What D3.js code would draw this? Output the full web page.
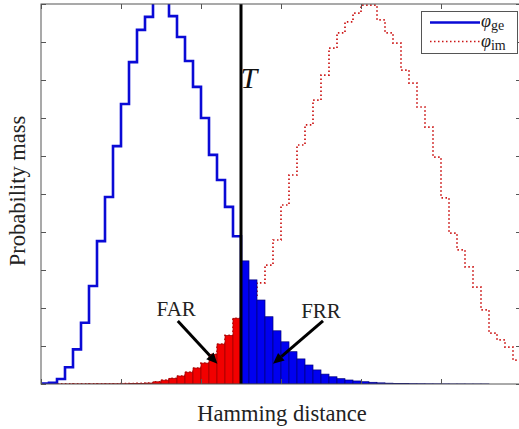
<!DOCTYPE html>
<html>
<head>
<meta charset="utf-8">
<script src="https://cdnjs.cloudflare.com/ajax/libs/d3/7.8.5/d3.min.js"></script>
<style>
  html, body { margin: 0; padding: 0; background: #fff; overflow: hidden; }
  svg { display: block; }
  text { font-family: "Liberation Serif", "Times New Roman", serif; fill: #222; }
</style>
</head>
<body>
<svg id="chart" width="519" height="429"></svg>
<script>
// Hamming-distance histogram bins (left edges), bin width 0.01
const binWidth = 0.01;
const binStarts = d3.range(60).map(i => +(i * binWidth).toFixed(2));
const threshold = 0.25;

// Genuine comparisons (relative probability mass per bin)
const genuine = [
  0.01, 0.03, 0.13, 0.44, 0.91, 1.61, 2.58, 3.76, 4.92, 6.26,
  7.37, 8.47, 9.32, 9.66, 10.3, 10.2, 9.68, 9.13, 8.50, 7.82,
  7.00, 6.03, 5.37, 4.66, 3.89, 3.24, 2.74, 2.21, 1.77, 1.40,
  1.11, 0.85, 0.66, 0.50, 0.37, 0.26, 0.19, 0.14, 0.105, 0.08,
  0.06, 0.045, 0.03, 0.022, 0.016, 0.012, 0.009, 0.007, 0.005, 0.004,
  0.003, 0.002, 0.002, 0.001, 0.001, 0.001, 0, 0, 0, 0
];

// Impostor comparisons (relative probability mass per bin)
const impostor = [
  0, 0, 0.001, 0.001, 0.002, 0.002, 0.003, 0.004, 0.005, 0.006,
  0.008, 0.011, 0.016, 0.026, 0.058, 0.10, 0.15, 0.21, 0.31, 0.42,
  0.55, 0.78, 1.05, 1.28, 1.73, 2.00, 2.30, 2.66, 3.13, 3.79,
  4.71, 5.50, 6.29, 6.82, 7.47, 8.13, 8.84, 9.24, 9.53, 9.76,
  9.97, 9.97, 9.58, 9.24, 8.97, 8.26, 7.92, 7.29, 6.76, 5.97,
  4.90, 3.97, 3.53, 3.08, 2.55, 1.95, 1.34, 1.16, 0.97, 0.63
];

const xTickValues = [0, 0.1, 0.2, 0.3, 0.4, 0.5, 0.6];
const yTickValues = [0, 1, 2, 3, 4, 5, 6, 7, 8, 9, 10];

// Annotations in data units
const annotations = [
  { label: "FAR", tx: 0.169, ty: 1.79, from: [0.171, 1.66], to: [0.2205, 0.53] },
  { label: "FRR", tx: 0.35, ty: 1.74, from: [0.3525, 1.66], to: [0.29, 0.53] }
];

const margin = { left: 41, top: 4 };
const W = 480, H = 380;

const svg = d3.select("#chart");
const g = svg.append("g").attr("transform", `translate(${margin.left},${margin.top})`);

const x = d3.scaleLinear().domain([0, 0.6]).range([0, W]);
const y = d3.scaleLinear().domain([0, 10]).range([H, 0]);

g.append("clipPath").attr("id", "plotClip")
  .append("rect").attr("x", 0).attr("y", 0).attr("width", W).attr("height", H);

const plot = g.append("g").attr("clip-path", "url(#plotClip)");

// Impostor distribution: dotted step outline over all bins
const stepLine = d3.line()
  .x(d => x(d[0]))
  .y(d => y(d[1]))
  .curve(d3.curveStepAfter);

const impPts = binStarts.map((b, i) => [b, impostor[i]]);
impPts.push([0.6, impostor[impostor.length - 1]]);
plot.append("path")
  .attr("d", stepLine(impPts))
  .attr("fill", "none")
  .attr("stroke", "#cc1414")
  .attr("stroke-width", 1.7)
  .attr("stroke-dasharray", "1.5,2.5");

// Genuine distribution: solid step outline up to the threshold
const genIdx = binStarts.map((b, i) => i).filter(i => binStarts[i] < threshold - 1e-9);
const genPts = genIdx.map(i => [binStarts[i], genuine[i]]);
genPts.push([threshold, genuine[genIdx[genIdx.length - 1]]]);
genPts.push([threshold, 0]);
plot.append("path")
  .attr("d", stepLine(genPts))
  .attr("fill", "none")
  .attr("stroke", "#0a0ad6")
  .attr("stroke-width", 2.6)
  .attr("stroke-linejoin", "miter");

// FAR: impostor mass below threshold (red bars)
plot.selectAll("rect.far")
  .data(binStarts.map((b, i) => ({ b, v: impostor[i] })).filter(d => d.b < threshold - 1e-9 && d.v > 0))
  .join("rect").attr("class", "far")
  .attr("x", d => x(d.b))
  .attr("width", x(binWidth) - x(0))
  .attr("y", d => y(d.v))
  .attr("height", d => y(0) - y(d.v))
  .attr("fill", "#f20000")
  .attr("stroke", "#9a0000")
  .attr("stroke-width", 0.7);

// FRR: genuine mass above threshold (blue bars)
plot.selectAll("rect.frr")
  .data(binStarts.map((b, i) => ({ b, v: genuine[i] })).filter(d => d.b >= threshold - 1e-9 && d.v > 0))
  .join("rect").attr("class", "frr")
  .attr("x", d => x(d.b))
  .attr("width", x(binWidth) - x(0))
  .attr("y", d => y(d.v))
  .attr("height", d => y(0) - y(d.v))
  .attr("fill", "#0000f0")
  .attr("stroke", "#00007a")
  .attr("stroke-width", 0.7);

// Threshold line
g.append("line")
  .attr("x1", x(threshold)).attr("x2", x(threshold))
  .attr("y1", 0).attr("y2", H)
  .attr("stroke", "#000").attr("stroke-width", 3);

g.append("text")
  .attr("x", x(0.2495)).attr("y", y(7.79))
  .attr("font-size", 30).attr("font-style", "italic")
  .style("fill", "#111")
  .text("T");

// Axes box with inward ticks, no labels
const axisColor = "#555";
g.append("rect").attr("x", 0).attr("y", 0).attr("width", W).attr("height", H)
  .attr("fill", "none").attr("stroke", axisColor).attr("stroke-width", 1);

const tickLen = 5;
const styleAxis = sel => {
  sel.select(".domain").remove();
  sel.selectAll(".tick line").attr("stroke", axisColor);
  sel.selectAll(".tick text").remove();
};
g.append("g").call(d3.axisBottom(x).tickValues(xTickValues).tickSize(-tickLen).tickFormat(""))
  .attr("transform", `translate(0,${H})`).call(styleAxis);
g.append("g").call(d3.axisTop(x).tickValues(xTickValues).tickSize(-tickLen).tickFormat(""))
  .call(styleAxis);
g.append("g").call(d3.axisLeft(y).tickValues(yTickValues).tickSize(-tickLen).tickFormat(""))
  .call(styleAxis);
g.append("g").call(d3.axisRight(y).tickValues(yTickValues).tickSize(-tickLen).tickFormat(""))
  .attr("transform", `translate(${W},0)`).call(styleAxis);

// Annotation arrows
annotations.forEach(a => {
  const x1 = x(a.from[0]), y1 = y(a.from[1]);
  const x2 = x(a.to[0]), y2 = y(a.to[1]);
  const ang = Math.atan2(y2 - y1, x2 - x1);
  const headL = 11, headW = 5;
  const bx = x2 - headL * Math.cos(ang), by = y2 - headL * Math.sin(ang);
  g.append("line")
    .attr("x1", x1).attr("y1", y1).attr("x2", bx).attr("y2", by)
    .attr("stroke", "#000").attr("stroke-width", 3);
  const px = -Math.sin(ang) * headW, py = Math.cos(ang) * headW;
  g.append("path")
    .attr("d", `M${x2},${y2}L${bx + px},${by + py}L${bx - px},${by - py}Z`)
    .attr("fill", "#000");
  g.append("text")
    .attr("x", x(a.tx)).attr("y", y(a.ty))
    .attr("text-anchor", "middle")
    .attr("font-size", 21)
    .text(a.label);
});

// Axis titles
svg.append("text")
  .attr("x", 282).attr("y", 421)
  .attr("text-anchor", "middle").attr("font-size", 22.5)
  .text("Hamming distance");
svg.append("text")
  .attr("transform", `translate(25,191) rotate(-90)`)
  .attr("text-anchor", "middle").attr("font-size", 22.5)
  .text("Probability mass");

// Legend
const lg = svg.append("g");
lg.append("rect").attr("x", 421.5).attr("y", 11.5).attr("width", 96).attr("height", 42)
  .attr("fill", "#fff").attr("stroke", "#555").attr("stroke-width", 1);
lg.append("line").attr("x1", 430).attr("x2", 480).attr("y1", 22.5).attr("y2", 22.5)
  .attr("stroke", "#0a0ad6").attr("stroke-width", 2.6);
lg.append("line").attr("x1", 430).attr("x2", 480).attr("y1", 41.5).attr("y2", 41.5)
  .attr("stroke", "#cc1414").attr("stroke-width", 1.7).attr("stroke-dasharray", "1.5,2.5");
const legendItems = [["ge", 27], ["im", 47]];
legendItems.forEach(([sub, yy]) => {
  const t = lg.append("text").attr("x", 481).attr("y", yy).attr("font-size", 18);
  t.append("tspan").attr("font-style", "italic").text("φ");
  t.append("tspan").attr("font-size", 14).attr("dy", 3).text(sub);
});
</script>
</body>
</html>
